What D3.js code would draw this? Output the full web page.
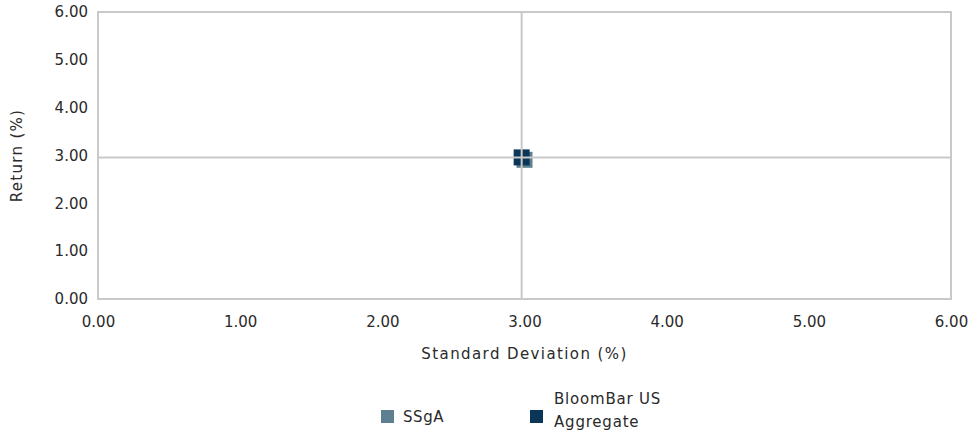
<!DOCTYPE html>
<html><head><meta charset="utf-8">
<script src="https://cdn.jsdelivr.net/npm/d3@7"></script>
<style>
body{margin:0;background:#fff;}
svg text{font-family:"Century Gothic","URW Gothic","DejaVu Sans",sans-serif;fill:#2a2a2a;}
</style></head><body>
<svg id="c" width="972" height="443"></svg>
<script>
const seriesNames = ["SSgA", "BloomBar US Aggregate"];
const seriesColors = ["#5e7f90", "#0b3658"];
const stdDev = [3.00, 2.98];
const returns = [2.91, 2.96];
const xTicks = [0, 1, 2, 3, 4, 5, 6];
const yTicks = [0, 1, 2, 3, 4, 5, 6];

const svg = d3.select("#c");
const m = {l: 98, r: 21, t: 12, b: 144};
const W = 972, H = 443;
const x = d3.scaleLinear().domain([0, 6]).range([m.l, W - m.r]);
const y = d3.scaleLinear().domain([0, 6]).range([H - m.b, m.t]);
const grid = "#c9c9c9";

// points
const pts = seriesNames.map((n, i) => ({n, c: seriesColors[i], x: stdDev[i], y: returns[i]}));
svg.append("g").selectAll("rect").data(pts).join("rect")
  .attr("x", d => x(d.x) - 8).attr("y", d => y(d.y) - 8)
  .attr("width", 16).attr("height", 16).attr("fill", d => d.c);

// quadrant lines through benchmark
const bx = stdDev[1], by = returns[1];
svg.append("line").attr("x1", x(bx)).attr("x2", x(bx)).attr("y1", y(0)).attr("y2", y(6))
  .attr("stroke", grid).attr("stroke-width", 2);
svg.append("line").attr("x1", x(0)).attr("x2", x(6)).attr("y1", y(by)).attr("y2", y(by))
  .attr("stroke", grid).attr("stroke-width", 2);

// border
svg.append("rect").attr("x", x(0)).attr("y", y(6)).attr("width", x(6) - x(0)).attr("height", y(0) - y(6))
  .attr("fill", "none").attr("stroke", grid).attr("stroke-width", 2);

// axes
const fmt = d3.format(".2f");
const xa = svg.append("g").attr("transform", `translate(0,${y(0)})`)
  .call(d3.axisBottom(x).tickValues(xTicks).tickFormat(fmt).tickSize(0).tickPadding(17));
xa.select(".domain").remove();
xa.selectAll("text").attr("font-size", 15).style("font-family", null);
const ya = svg.append("g").attr("transform", `translate(${x(0)},0)`)
  .call(d3.axisLeft(y).tickValues(yTicks).tickFormat(fmt).tickSize(0).tickPadding(10));
ya.select(".domain").remove();
ya.selectAll("text").attr("font-size", 15).style("font-family", null);

svg.append("text").attr("x", (x(0) + x(6)) / 2).attr("y", 359).attr("text-anchor", "middle")
  .attr("font-size", 15).attr("letter-spacing", 1.4).text("Standard Deviation (%)");
svg.append("text").attr("transform", `translate(22,${(y(0) + y(6)) / 2}) rotate(-90)`)
  .attr("text-anchor", "middle").attr("font-size", 15).attr("letter-spacing", 1.3).text("Return (%)");

// legend
const lg = svg.append("g");
lg.append("rect").attr("x", 381).attr("y", 410).attr("width", 13).attr("height", 13).attr("fill", seriesColors[0]);
lg.append("text").attr("x", 403).attr("y", 422).attr("font-size", 15).attr("letter-spacing", 0.6).text(seriesNames[0]);
lg.append("rect").attr("x", 530).attr("y", 410).attr("width", 13).attr("height", 13).attr("fill", seriesColors[1]);
const t2 = lg.append("text").attr("x", 554).attr("font-size", 15).attr("letter-spacing", 0.8);
t2.append("tspan").attr("x", 554).attr("y", 404).text("BloomBar US");
t2.append("tspan").attr("x", 554).attr("y", 427).text("Aggregate");
</script>
</body></html>
